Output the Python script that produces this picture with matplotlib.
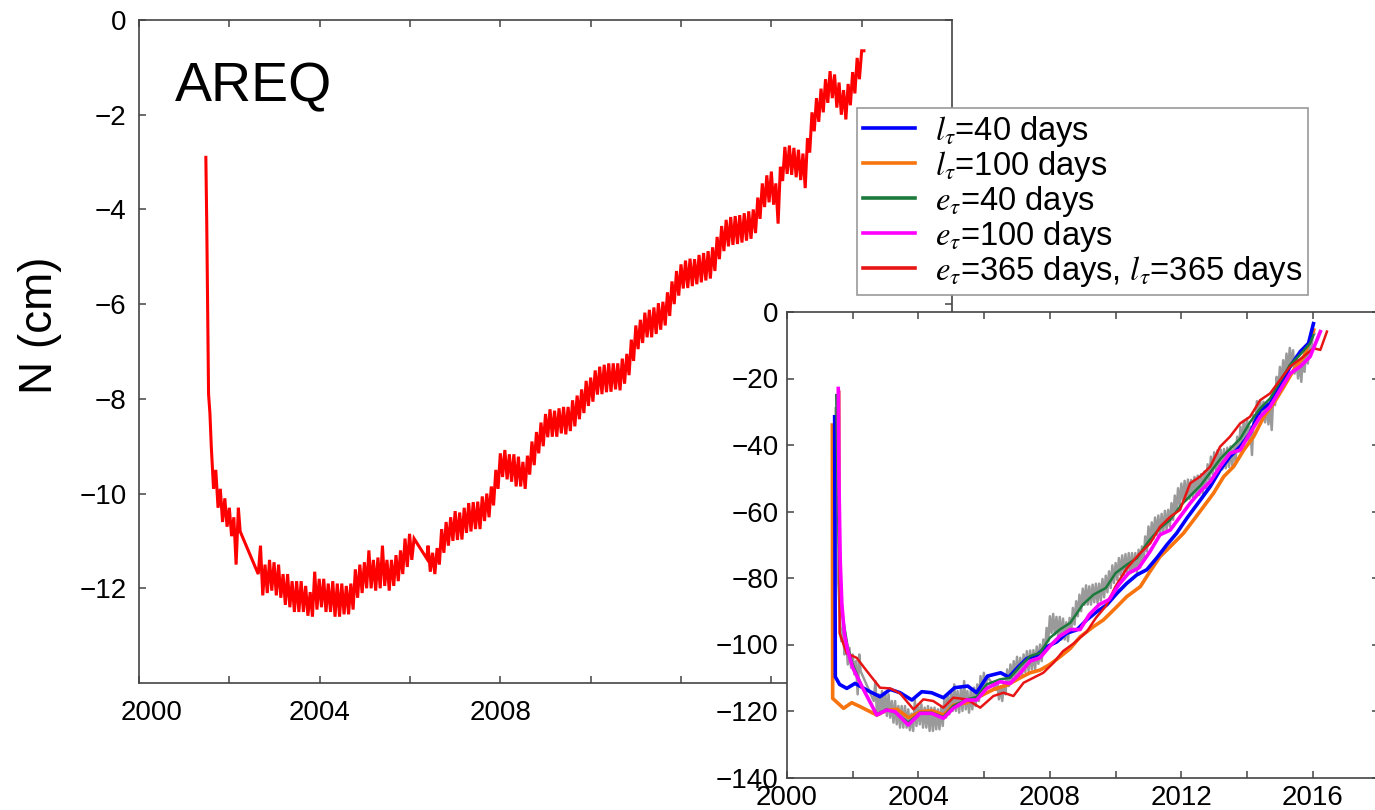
import numpy as np
import matplotlib
matplotlib.use('Agg')
import matplotlib.pyplot as plt
from matplotlib.lines import Line2D
from matplotlib.ticker import FuncFormatter

plt.rcParams['font.family'] = ['Liberation Sans', 'DejaVu Sans']
plt.rcParams['mathtext.fontset'] = 'stix'
plt.rcParams['axes.unicode_minus'] = True

# ---------------- main series: AREQ N (cm) ----------------
spike_years = [2001.48, 2001.50, 2001.54, 2001.57]
spike_vals = [-2.9, -4.3, -7.9, -8.3]

early_start = 2001.60
early_vals = [-9.0, -9.9, -9.5, -10.3, -9.9, -10.6, -10.1, -10.7, -10.3, -10.9,
              -10.5, -11.5, -10.3]
gap1_year, gap1_val = 2002.24, -10.8

mid_start = 2002.64
mid_vals = [-11.70, -11.10, -12.15, -11.50, -12.10, -11.40, -12.05, -11.45, -12.15, -11.50,
            -12.20, -11.70, -12.35, -11.70, -12.40, -11.85, -12.50, -11.85, -12.50, -11.85,
            -12.50, -11.95, -12.58, -12.08, -12.60, -11.65, -12.45, -11.80, -12.40, -11.80,
            -12.50, -11.90, -12.50, -11.85, -12.60, -11.90, -12.60, -11.90, -12.55, -11.95,
            -12.55, -11.90, -12.45, -11.60, -12.20, -11.50, -12.10, -11.45, -12.00, -11.20,
            -12.00, -11.40, -12.05, -11.35, -12.00, -11.10, -11.95, -11.40, -12.05, -11.40,
            -11.95, -11.30, -11.85, -11.20, -11.70, -10.95, -11.55, -10.85, -11.40, -10.95]
gap2_year, gap2_val = 2006.37, -11.37

late_start = 2006.40
late_vals = [-11.10, -11.65, -11.25, -11.70, -11.15, -11.50, -10.75, -11.25, -10.60, -11.10,
             -10.50, -11.00, -10.37, -10.98, -10.40, -10.97, -10.30, -10.83, -10.20, -10.80,
             -10.18, -10.75, -10.17, -10.75, -10.06, -10.58, -10.00, -10.50, -9.85, -10.25,
             -9.50, -9.90, -9.15, -9.65, -9.08, -9.70, -9.17, -9.75, -9.17, -9.85,
             -9.22, -9.85, -9.33, -9.90, -9.20, -9.60, -8.90, -9.40, -8.70, -9.15,
             -8.50, -9.00, -8.32, -8.81, -8.22, -8.80, -8.25, -8.80, -8.20, -8.73,
             -8.17, -8.75, -8.17, -8.68, -8.03, -8.58, -7.93, -8.43, -7.80, -8.30,
             -7.62, -8.15, -7.55, -8.06, -7.40, -7.91, -7.32, -7.90, -7.28, -7.86,
             -7.25, -7.85, -7.25, -7.80, -7.25, -7.82, -7.15, -7.68, -7.05, -7.50,
             -6.75, -7.20, -6.45, -6.95, -6.33, -6.82, -6.18, -6.70, -6.12, -6.70,
             -6.07, -6.63, -5.98, -6.54, -5.95, -6.45, -5.75, -6.25, -5.52, -6.00,
             -5.30, -5.82, -5.16, -5.67, -5.08, -5.66, -5.04, -5.62, -5.05, -5.58,
             -4.96, -5.54, -4.92, -5.50, -4.88, -5.46, -4.80, -5.30, -4.58, -5.05,
             -4.35, -4.88, -4.22, -4.78, -4.16, -4.75, -4.14, -4.73, -4.12, -4.70,
             -4.08, -4.66, -4.04, -4.62, -4.00, -4.50, -3.75, -4.20, -3.45, -3.95,
             -3.28, -3.85, -3.20, -3.90, -3.45, -4.30, -3.10, -3.40, -2.68, -3.25,
             -2.65, -3.27, -2.70, -3.32, -2.74, -3.38, -2.82, -3.55, -2.50, -2.80,
             -1.95, -2.35, -1.65, -2.15, -1.45, -1.95, -1.25, -1.75, -1.08, -1.65,
             -1.15, -1.85, -1.32, -2.00, -1.48, -2.10, -1.35, -1.80, -1.10, -1.55,
             -0.80, -1.25, -0.65, -0.65]
step = 0.05

main_years = np.concatenate([
    spike_years,
    early_start + step * np.arange(len(early_vals)),
    [gap1_year],
    mid_start + step * np.arange(len(mid_vals)),
    [gap2_year],
    late_start + step * np.arange(len(late_vals)),
])
main_n = np.concatenate([spike_vals, early_vals, [gap1_val], mid_vals, [gap2_val], late_vals])

# ---------------- inset: smoothed estimates (mm) ----------------
blue_x = [2001.45, 2001.47, 2001.60, 2001.82, 2002.07, 2002.43, 2002.83, 2003.14, 2003.44, 2003.80,
          2004.10, 2004.40, 2004.76, 2005.10, 2005.50, 2005.77, 2006.10, 2006.50, 2006.75, 2007.04,
          2007.30, 2007.60, 2007.90, 2008.21, 2008.51, 2008.82, 2009.12, 2009.43, 2009.73, 2010.04,
          2010.34, 2010.64, 2010.95, 2011.25, 2011.56, 2011.86, 2012.17, 2012.47, 2012.88, 2013.18,
          2013.48, 2013.79, 2014.09, 2014.40, 2014.70, 2015.00, 2015.31, 2015.62, 2015.87, 2016.02]
blue_y = [-31.5, -109.7, -112.0, -113.2, -111.7, -113.7, -115.7, -113.5, -114.5, -116.7,
          -114.2, -114.5, -116.0, -113.0, -112.5, -114.5, -109.5, -108.5, -109.8, -106.7,
          -104.2, -103.2, -100.7, -99.2, -96.6, -95.6, -92.6, -90.1, -88.1, -84.6,
          -81.6, -79.1, -77.5, -74.0, -70.0, -66.5, -62.0, -58.0, -52.5, -47.5,
          -43.5, -40.5, -36.5, -29.5, -27.5, -22.5, -16.4, -11.9, -9.4, -3.5]

orange_x = [2001.38, 2001.39, 2001.72, 2001.97, 2002.23, 2002.73, 2003.04, 2003.35, 2003.70, 2004.06,
            2004.41, 2004.77, 2005.07, 2005.48, 2005.88, 2006.29, 2006.70, 2007.10, 2007.40, 2007.70,
            2008.00, 2008.31, 2008.62, 2008.92, 2009.33, 2009.63, 2009.94, 2010.34, 2010.75, 2011.05,
            2011.35, 2011.66, 2012.06, 2012.37, 2012.68, 2012.98, 2013.29, 2013.59, 2013.90, 2014.20,
            2014.51, 2014.81, 2015.12, 2015.42, 2015.73, 2016.03]
orange_y = [-34.0, -116.2, -119.2, -117.5, -118.7, -121.2, -119.7, -119.5, -122.0, -120.2,
            -119.9, -121.2, -118.2, -117.5, -115.5, -113.5, -112.2, -110.0, -108.5, -107.7,
            -106.0, -103.7, -101.2, -97.7, -94.6, -92.6, -89.6, -85.6, -82.6, -78.0,
            -73.6, -70.6, -66.6, -62.6, -58.5, -54.5, -49.5, -46.5, -41.5, -37.5,
            -31.5, -27.5, -22.5, -17.4, -13.4, -5.4]

green_x = [2001.50, 2001.55, 2001.62, 2001.70, 2001.85, 2002.00, 2002.30, 2002.73, 2003.03, 2003.30,
           2003.69, 2004.05, 2004.40, 2004.76, 2005.06, 2005.47, 2005.77, 2006.08, 2006.48, 2006.79,
           2007.09, 2007.40, 2007.70, 2008.00, 2008.30, 2008.62, 2009.00, 2009.33, 2009.70, 2010.00,
           2010.34, 2010.65, 2011.00, 2011.35, 2011.66, 2012.00, 2012.30, 2012.60, 2012.90, 2013.20,
           2013.50, 2013.80, 2014.10, 2014.40, 2014.70, 2015.00, 2015.30, 2015.60, 2015.92, 2016.02]
green_y = [-25.0, -60.0, -82.0, -92.0, -101.0, -106.0, -113.0, -121.0, -119.5, -120.5,
           -123.5, -120.5, -120.5, -121.8, -118.5, -116.5, -115.8, -112.0, -110.5, -110.0,
           -106.5, -103.5, -102.5, -98.0, -95.5, -93.5, -88.0, -85.0, -83.0, -78.5,
           -76.0, -74.0, -69.0, -65.0, -62.5, -58.0, -55.0, -52.0, -48.0, -44.0,
           -41.0, -38.0, -33.0, -29.0, -26.0, -21.0, -16.0, -13.0, -9.4, -7.0]

magenta_x = [2001.56, 2001.58, 2001.62, 2001.67, 2001.75, 2001.85, 2002.00, 2002.30, 2002.73, 2003.03,
             2003.29, 2003.69, 2004.05, 2004.40, 2004.76, 2005.06, 2005.47, 2005.77, 2006.08, 2006.48,
             2006.79, 2007.09, 2007.40, 2007.70, 2008.00, 2008.30, 2008.62, 2008.92, 2009.20, 2009.50,
             2009.80, 2010.10, 2010.40, 2010.70, 2011.05, 2011.35, 2011.66, 2011.96, 2012.27, 2012.57,
             2012.88, 2013.18, 2013.48, 2013.79, 2014.09, 2014.40, 2014.70, 2015.00, 2015.31, 2015.62,
             2015.92, 2016.23]
magenta_y = [-23.0, -50.0, -75.0, -88.0, -97.0, -102.0, -107.0, -113.0, -121.2, -119.7,
             -120.2, -124.2, -120.7, -120.7, -122.2, -119.2, -116.7, -116.7, -113.2, -111.2,
             -111.7, -108.7, -105.0, -104.0, -100.5, -97.5, -95.5, -95.5, -91.0, -88.0,
             -86.5, -82.0, -78.5, -77.0, -72.0, -67.0, -65.6, -61.6, -57.5, -54.0,
             -51.0, -46.5, -42.5, -41.5, -36.5, -31.5, -28.5, -23.5, -18.5, -16.4,
             -13.4, -5.9]

red_x = [2001.59, 2001.60, 2001.82, 2002.12, 2002.43, 2002.83, 2003.14, 2003.44, 2003.85, 2004.15,
         2004.45, 2004.76, 2005.06, 2005.47, 2005.88, 2006.28, 2006.59, 2006.89, 2007.20, 2007.50,
         2007.80, 2008.11, 2008.40, 2008.72, 2009.12, 2009.40, 2009.70, 2010.00, 2010.34, 2010.70,
         2011.05, 2011.35, 2011.66, 2011.96, 2012.27, 2012.57, 2012.88, 2013.18, 2013.48, 2013.79,
         2014.09, 2014.40, 2014.70, 2015.00, 2015.31, 2015.72, 2016.02, 2016.23, 2016.43]
red_y = [-24.0, -96.6, -102.7, -104.0, -108.0, -113.0, -113.2, -114.7, -119.5, -116.5,
         -117.0, -119.0, -116.0, -116.5, -119.0, -115.5, -114.5, -115.5, -111.5, -110.0,
         -108.5, -105.5, -102.0, -99.7, -96.2, -92.0, -88.5, -82.5, -77.1, -73.0,
         -69.6, -64.6, -61.6, -59.5, -51.5, -49.5, -46.5, -40.5, -37.5, -33.5,
         -31.5, -26.5, -24.5, -20.5, -16.4, -13.4, -10.9, -11.4, -5.9]

legend_labels = [r'$l_{\tau}$=40 days', r'$l_{\tau}$=100 days', r'$e_{\tau}$=40 days',
                 r'$e_{\tau}$=100 days', r'$e_{\tau}$=365 days, $l_{\tau}$=365 days']

main_xticks = [2000, 2002, 2004, 2006, 2008, 2010, 2012, 2014, 2016]
main_xlabels = [2004, 2008]
main_first_label = 2000
main_yticks = [-12, -10, -8, -6, -4, -2, 0]
inset_xticks = [2000, 2002, 2004, 2006, 2008, 2010, 2012, 2014, 2016]
inset_xlabels = [2000, 2004, 2008, 2012, 2016]
inset_yticks = [-140, -120, -100, -80, -60, -40, -20, 0]

C_BLUE = '#0000FF'
C_ORANGE = '#F7740F'
C_GREEN = '#1B7A3C'
C_MAGENTA = '#FF00FF'
C_RED = '#E81515'
SPINE = '#444444'

fig = plt.figure(figsize=(13.75, 8.1), dpi=100)

# ---------- main axes ----------
ax = fig.add_axes([139 / 1375, 1 - 683 / 810, 813 / 1375, 663 / 810])
ax.plot(main_years, main_n, color='#FF0000', lw=2.2, solid_joinstyle='miter')
ax.set_xlim(2000, 2018)
ax.set_ylim(-14, 0)
ax.set_xticks(main_xticks)
ax.xaxis.set_major_formatter(FuncFormatter(lambda v, p: f'{int(round(v))}' if int(round(v)) in main_xlabels else ''))
ax.set_yticks(main_yticks)
ax.tick_params(axis='both', direction='in', length=5, width=1.1, color=SPINE,
               top=True, right=True, labelsize=20)
ax.tick_params(axis='x', pad=12)
ax.tick_params(axis='y', pad=9)
for s in ax.spines.values():
    s.set_color(SPINE)
    s.set_linewidth(1.2)
# first year label sits slightly right of its tick in the reference
ax.annotate(str(main_first_label), xy=(main_first_label, 0), xycoords=('data', 'axes fraction'),
            xytext=(9, -12), textcoords='offset points', ha='center', va='top', fontsize=20)
ax.text(0.044, 0.878, 'AREQ', transform=ax.transAxes, fontsize=40, ha='left', va='baseline')
fig.text(40 / 1375, 1 - 325 / 810, 'N (cm)', rotation=90, fontsize=33, ha='center', va='center')

# ---------- inset ----------
ax2 = fig.add_axes([787 / 1375, 1 - 777.5 / 810, 591.5 / 1375, 465.5 / 810])
ax2.set_facecolor('white')
ax2.plot(main_years, main_n * 10.0, color='#9A9A9A', lw=1.8, zorder=1)
ax2.plot(orange_x, orange_y, color=C_ORANGE, lw=2.6, zorder=2)
ax2.plot(blue_x, blue_y, color=C_BLUE, lw=2.6, zorder=3)
ax2.plot(green_x, green_y, color=C_GREEN, lw=1.8, zorder=4)
ax2.plot(red_x, red_y, color=C_RED, lw=1.8, zorder=5)
ax2.plot(magenta_x, magenta_y, color=C_MAGENTA, lw=2.6, zorder=6)
ax2.set_xlim(2000, 2018)
ax2.set_ylim(-140, 0)
ax2.set_xticks(inset_xticks)
ax2.xaxis.set_major_formatter(FuncFormatter(lambda v, p: f'{int(round(v))}' if int(round(v)) in inset_xlabels else ''))
ax2.set_yticks(inset_yticks)
ax2.tick_params(axis='both', direction='in', length=5, width=1.1, color=SPINE,
                top=True, right=True, labelsize=20, pad=6)
ax2.tick_params(axis='x', pad=5.5)
for s in ax2.spines.values():
    s.set_color(SPINE)
    s.set_linewidth(1.2)

# ---------- legend ----------
handles = [Line2D([], [], color=c, lw=2.6) for c in [C_BLUE, C_ORANGE, C_GREEN, C_MAGENTA, C_RED]]
leg = fig.legend(handles, legend_labels, loc='upper left',
                 bbox_to_anchor=(857 / 1375, 1 - 108 / 810), bbox_transform=fig.transFigure,
                 borderaxespad=0, fontsize=23.5, handlelength=1.6, handletextpad=0.6,
                 labelspacing=0.0, borderpad=0.18, frameon=True, fancybox=False,
                 framealpha=1, edgecolor='#999999')
leg.get_frame().set_linewidth(1.2)

fig.savefig('out.png', dpi=100)
